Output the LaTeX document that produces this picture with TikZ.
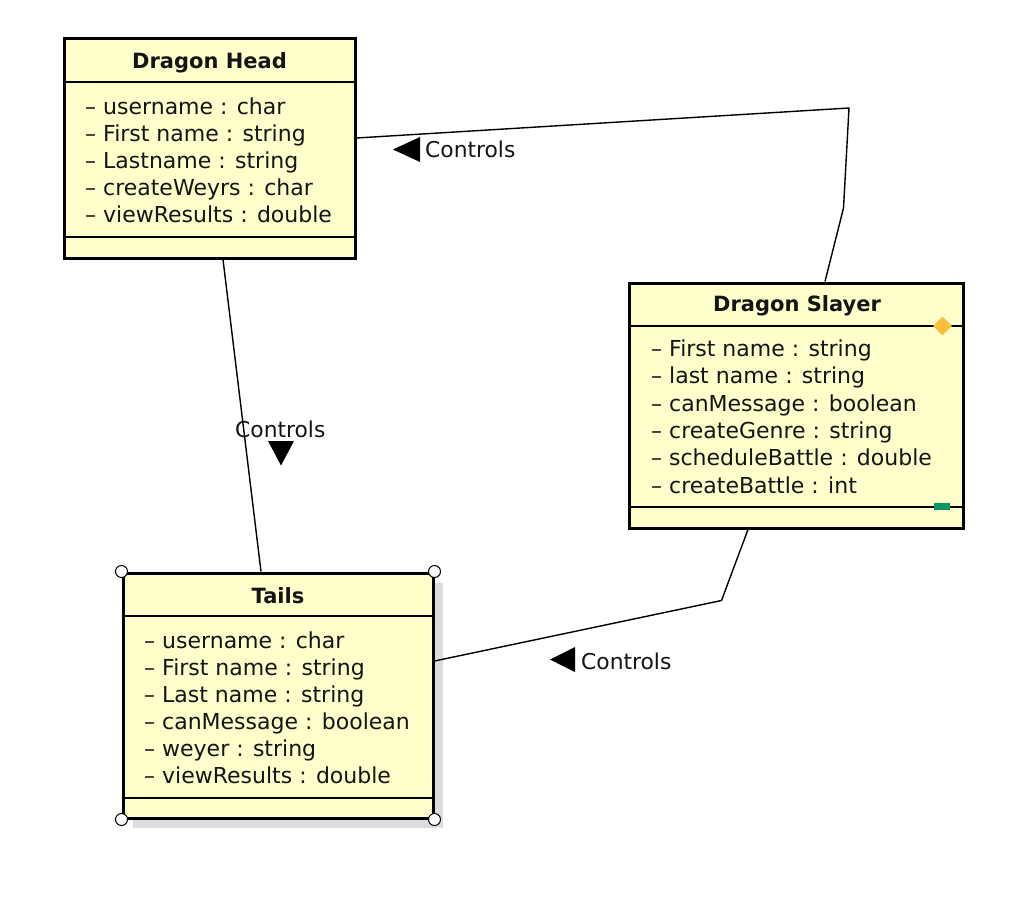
\documentclass[tikz,border=0pt]{standalone}
\usepackage{fontspec}
\setmainfont{DejaVu Sans}
\usetikzlibrary{shapes.geometric}
\definecolor{clsfill}{RGB}{255,255,204}
\definecolor{shadowgray}{RGB}{220,220,220}
\definecolor{diamondorange}{RGB}{250,190,60}
\definecolor{markgreen}{RGB}{10,150,95}
\definecolor{txt}{RGB}{20,20,20}
\tikzset{
  cls/.style={draw=black, line width=3pt, fill=clsfill, rectangle, inner sep=0pt},
  sepline/.style={line width=1.5pt},
  titletext/.style={font=\fontsize{21}{27}\bfseries\selectfont, anchor=base, inner sep=0pt, text=txt},
  attr/.style={font=\fontsize{22}{27}\selectfont, anchor=base west, inner sep=0pt, text=txt},
  conn/.style={line width=1.4pt, line join=miter},
  lbl/.style={font=\fontsize{21.8}{27}\selectfont, anchor=base west, inner sep=0pt, text=txt},
  handle/.style={circle, draw=black, fill=white, line width=1pt, minimum size=12pt, inner sep=0pt},
  shadowbox/.style={fill=shadowgray, rectangle, inner sep=0pt},
}
\begin{document}
\begin{tikzpicture}[x=1pt,y=-1pt]
\useasboundingbox[fill=white] (0,0) rectangle (1024,923);

% ---------- Dragon Head ----------
\node[cls, minimum width=291pt, minimum height=219pt] (dh) at (209.5,148.5) {};
\draw[sepline] (dh.west |- 0,82) -- (dh.east |- 0,82);
\draw[sepline] (dh.west |- 0,237) -- (dh.east |- 0,237);
\node[titletext] (dht) at (209.5,68.3) {Dragon Head};
\foreach \t [count=\i] in {– username : char, – First name : string, – Lastname : string, – createWeyrs : char, – viewResults : double}
  \node[attr] (dh-a\i) at (85,{114.5+27*(\i-1)}) {\t};

% ---------- Dragon Slayer ----------
\node[cls, minimum width=334pt, minimum height=245pt] (ds) at (796,405.5) {};
\draw[sepline] (ds.west |- 0,326) -- (ds.east |- 0,326);
\draw[sepline] (ds.west |- 0,507) -- (ds.east |- 0,507);
\node[titletext] (dst) at (797,311.7) {Dragon Slayer};
\foreach \t [count=\i] in {– First name : string, – last name : string, – canMessage : boolean, – createGenre : string, – scheduleBattle : double, – createBattle : int}
  \node[attr] (ds-a\i) at (651,{356.6+27.3*(\i-1)}) {\t};
\node[diamond, fill=diamondorange, minimum width=19pt, minimum height=19pt, inner sep=0pt] (dsd) at (942.5,326) {};
\node[rectangle, fill=markgreen, minimum width=16pt, minimum height=7pt, inner sep=0pt] (dsg) at (942,506.5) {};

% ---------- Tails ----------
\node[shadowbox, minimum width=310pt, minimum height=245pt] (tsh) at (288,705.5) {};
\node[cls, minimum width=310pt, minimum height=245pt] (ta) at (278,695.5) {};
\draw[sepline] (ta.west |- 0,616) -- (ta.east |- 0,616);
\draw[sepline] (ta.west |- 0,798) -- (ta.east |- 0,798);
\node[titletext] (tat) at (278,603.3) {Tails};
\foreach \t [count=\i] in {– username : char, – First name : string, – Last name : string, – canMessage : boolean, – weyer : string, – viewResults : double}
  \node[attr] (ta-a\i) at (144,{648.3+27*(\i-1)}) {\t};
\node[handle] (h1) at (ta.north west) {};
\node[handle] (h2) at (ta.north east) {};
\node[handle] (h3) at (ta.south west) {};
\node[handle] (h4) at (ta.south east) {};

% ---------- Connectors ----------
\coordinate (c1a) at (849,108);
\coordinate (c1b) at (843.5,208);
\draw[conn] (dh.east |- 0,138) -- (c1a) -- (c1b) -- (ds.north -| 825,0);

\draw[conn] (dh.south -| 223,0) -- (ta.north -| 261,0);

\coordinate (c3a) at (721.5,600.5);
\draw[conn] (ta.east |- 0,661) -- (c3a) -- (ds.south -| 748,0);

% ---------- Labels ----------
\fill (393,149.5) -- (420,137) -- (420,162) -- cycle;
\node[lbl] (l1) at (425,157) {Controls};

\fill (268,441) -- (294,441) -- (281,465.5) -- cycle;
\node[lbl] (l2) at (235,437) {Controls};

\fill (550,659.5) -- (575,647) -- (575,672) -- cycle;
\node[lbl] (l3) at (581,669) {Controls};
\end{tikzpicture}
\end{document}
